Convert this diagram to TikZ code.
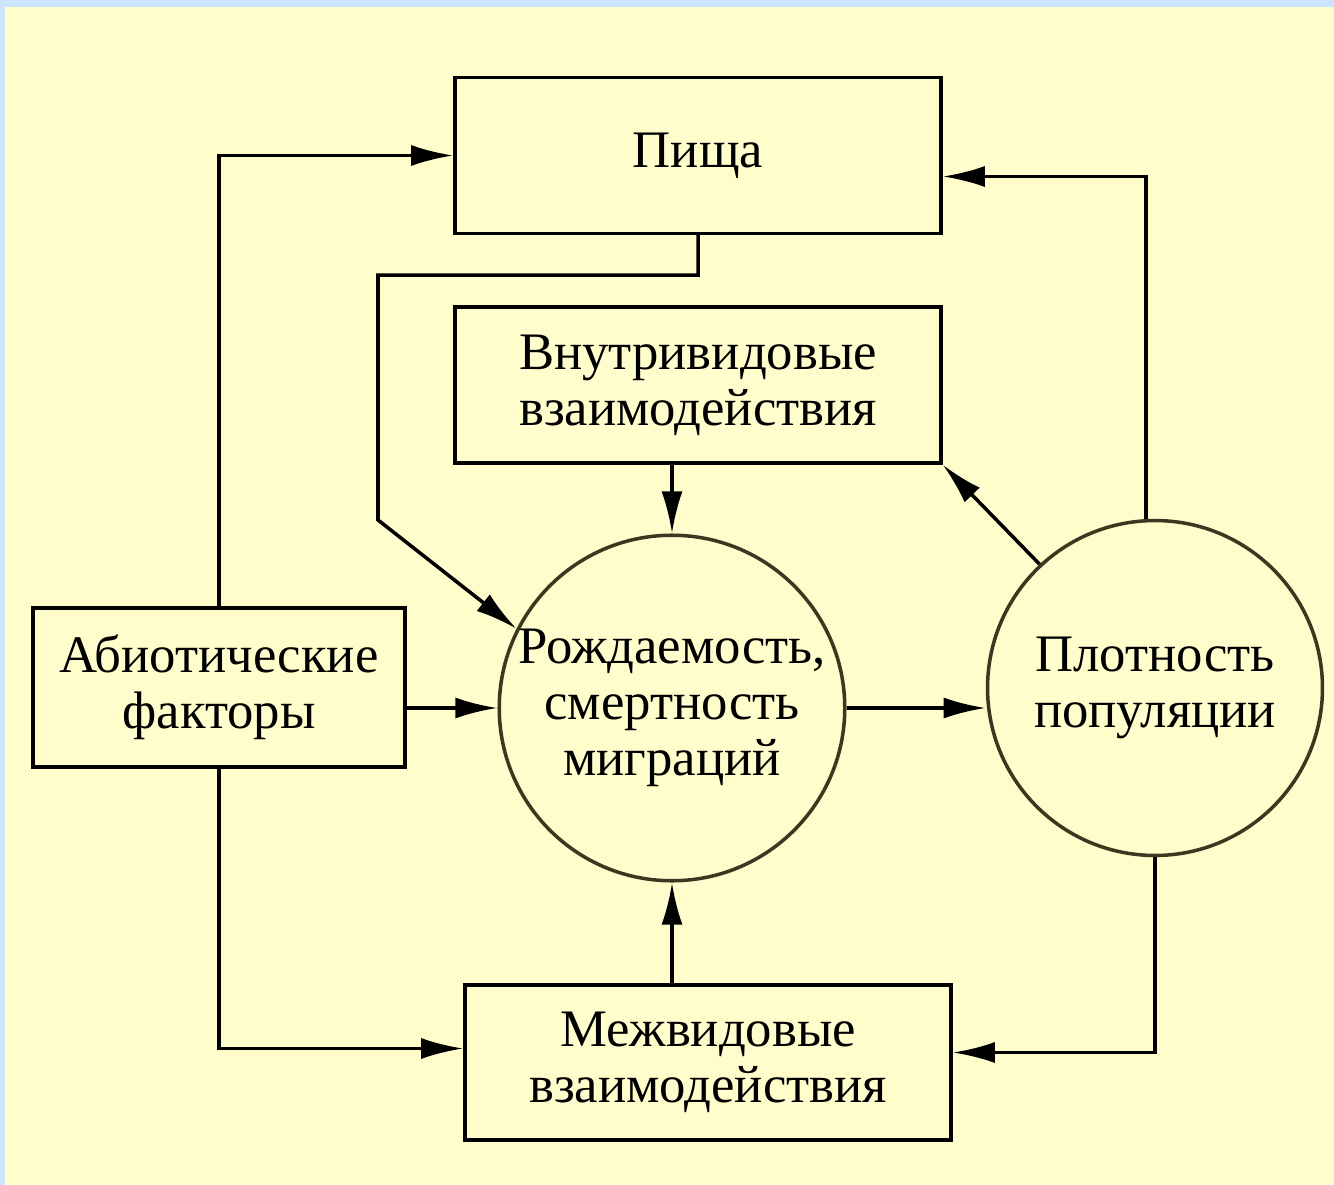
\documentclass[tikz,border=0pt]{standalone}
\usepackage{fontspec}
\setmainfont{Liberation Serif}
\usepackage{tikz}
\usetikzlibrary{calc, positioning, arrows.meta, shapes.geometric}
\definecolor{paper}{HTML}{FFFDCC}
\definecolor{frame}{HTML}{CCE6FF}
\definecolor{olive}{HTML}{3C3820}
\tikzset{
    factor/.style={rectangle, draw=black, line width=2pt, fill=paper, align=center, minimum width=9.72cm, minimum height=3.12cm, font=\fontsize{30}{32}\selectfont},
    rate/.style={circle, draw=olive, line width=2pt, fill=paper, align=center, minimum size=6.72cm, inner sep=0pt, font=\fontsize{30}{32}\selectfont},
    arrow/.style={-{Latex[length=24pt, width=12pt]}, line width=2pt}
}
\begin{document}
\begin{tikzpicture}[x=0.02cm, y=-0.02cm]
        % Background
        \fill[frame] (0,0) rectangle (1334,1185);
        \fill[paper] (5,7) rectangle (1334,1185);
        \useasboundingbox (0,0) rectangle (1334,1185);

        % Nodes
        \node[factor] (Food) at (698,155.5) {Пища};
        \node[factor] (Intra) at (698,385) {Внутривидовые\\взаимодействия};
        \node[factor, minimum width=7.44cm, minimum height=3.18cm] (Abiotic) at (219,687.5) {Абиотические\\факторы};
        \node[factor, minimum height=3.1cm] (Inter) at (708,1062.5) {Межвидовые\\взаимодействия};
        \node[rate] (Birth) at (672,708) {Рождаемость,\\смертность\\миграций};
        \node[rate, minimum size=6.7cm] (Density) at (1155,688) {Плотность\\популяции};

        \coordinate (Bend) at (378,520);

        % Edges
        \draw[arrow] (Abiotic.north) |- (Food.west);
        \draw[arrow] (Food.south) -- ++(0,40) -| (Bend) -- (Birth.153);
        \draw[arrow] (Intra.south -| Birth) -- (Birth.north);
        \draw[arrow] (Abiotic.east |- Birth) -- (Birth.west);
        \draw[arrow] (Birth.east) -- (Birth.east -| Density.west);
        \draw[arrow] (Density.93) |- ($(Food.east)+(0,21)$);
        \draw[arrow] (Density.133) -- (Intra.south east);
        \draw[arrow] (Density.south) |- ($(Inter.east)+(0,-10)$);
        \draw[arrow] (Abiotic.south) |- ($(Inter.west)+(0,-14)$);
        \draw[arrow] (Inter.north -| Birth) -- (Birth.south);
\end{tikzpicture}
\end{document}
